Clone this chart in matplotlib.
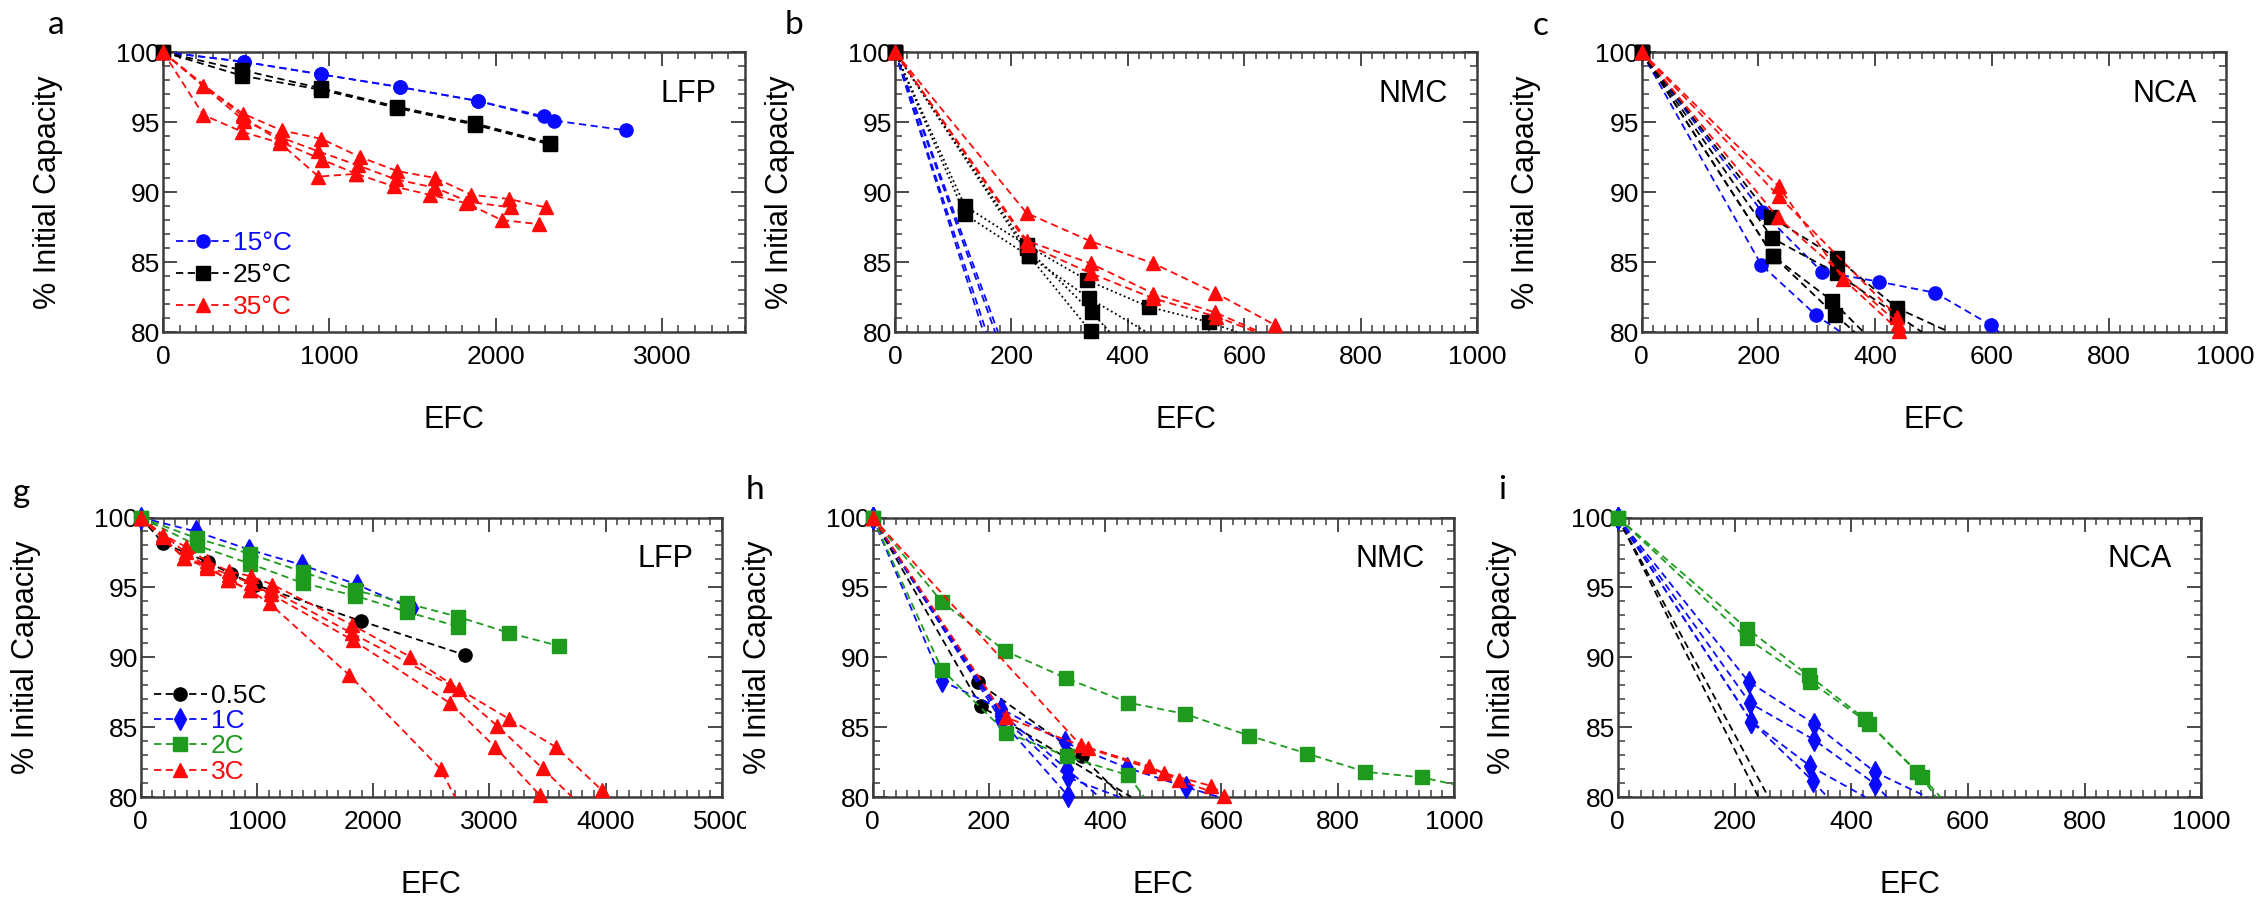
import matplotlib
matplotlib.use("Agg")
import matplotlib.pyplot as plt
from matplotlib.ticker import MultipleLocator
from matplotlib.patches import Rectangle

plt.rcParams['font.family'] = ['Liberation Sans', 'DejaVu Sans']

# ---- data (EFC, % initial capacity), one inner list per cell ----
# a: LFP, temperature
a15_efc = [[0, 486, 953, 1423, 1895, 2292], [0, 486, 953, 1423, 1895, 2354, 2785]]
a15_cap = [[100, 99.3, 98.4, 97.5, 96.5, 95.4], [100, 99.3, 98.4, 97.5, 96.5, 95.1, 94.4]]
a25_efc = [[0, 477, 953, 1407, 1877, 2326], [0, 477, 953, 1407, 1877, 2326]]
a25_cap = [[100, 98.7, 97.4, 96.1, 94.9, 93.5], [100, 98.3, 97.3, 96.0, 94.8, 93.4]]
a35_efc = [[0, 243, 481, 713, 953, 1185, 1407, 1638, 1854, 2081, 2301],
           [0, 486, 708, 935, 1173, 1400, 1638, 1838, 2093],
           [0, 243, 477, 704, 935, 1162, 1389, 1605, 1825, 2036, 2263],
           [0, 481, 704, 958, 1162]]
a35_cap = [[100, 97.6, 95.6, 94.4, 93.8, 92.5, 91.5, 91.0, 89.8, 89.5, 88.9],
           [100, 95.1, 93.9, 92.9, 91.9, 90.9, 90.3, 89.3, 88.9],
           [100, 95.5, 94.3, 93.5, 91.1, 91.3, 90.4, 89.8, 89.2, 88.0, 87.7],
           [100, 95.4, 93.6, 92.3, 91.3]]

# b: NMC, temperature
b15_efc = [[0, 152], [0, 157], [0, 172], [0, 177]]
b15_cap = [[100, 80], [100, 80], [100, 80], [100, 80]]
b25_efc = [[0, 120, 226, 330, 436, 540, 587], [0, 120, 231, 334, 432],
           [0, 226, 338, 369], [0, 231, 336]]
b25_cap = [[100, 89.0, 86.2, 83.7, 81.8, 80.7, 80.0], [100, 88.4, 85.4, 82.4, 80.0],
           [100, 86.0, 81.4, 80.0], [100, 85.4, 80.05]]
b35_efc = [[0, 226, 335, 444, 550, 653], [0, 227, 336, 444, 550, 627], [0, 229, 336, 444, 552, 620]]
b35_cap = [[100, 88.5, 86.5, 84.9, 82.8, 80.5], [100, 86.5, 84.9, 82.75, 81.4, 80.0],
           [100, 86.2, 84.2, 82.4, 81.1, 80.0]]

# c: NCA, temperature
c15_efc = [[0, 206, 309, 406, 503, 598, 612], [0, 205, 299, 341]]
c15_cap = [[100, 88.6, 84.3, 83.6, 82.8, 80.5, 80.0], [100, 84.8, 81.2, 80.0]]
c25_efc = [[0, 222, 334, 438, 527], [0, 224, 334, 438, 480], [0, 226, 327, 380], [0, 226, 332, 365]]
c25_cap = [[100, 88.2, 85.3, 81.7, 80.0], [100, 86.7, 84.2, 81.2, 80.0],
           [100, 85.4, 82.2, 80.0], [100, 85.4, 81.2, 80.0]]
c35_efc = [[0, 235, 345, 441], [0, 235, 438, 450], [0, 233, 440]]
c35_cap = [[100, 90.4, 83.8, 80.1], [100, 89.7, 81.1, 80.0], [100, 88.2, 80.6]]

# g: LFP, C-rate
g05_efc = [[0, 195, 583, 778, 982, 1893, 2793]]
g05_cap = [[100, 98.15, 96.8, 95.95, 95.2, 92.6, 90.15]]
g1_efc = [[0, 475, 935, 1390, 1861, 2330]]
g1_cap = [[100, 99.0, 97.7, 96.6, 95.2, 93.5]]
g2_efc = [[0, 486, 939, 1399, 1846, 2290, 2730, 3165, 3602], [0, 486, 939, 1399, 1846, 2290, 2730]]
g2_cap = [[100, 98.5, 97.4, 96.1, 94.8, 93.85, 92.9, 91.75, 90.8],
          [100, 98.0, 96.7, 95.3, 94.4, 93.25, 92.2]]
g3_efc = [[0, 195, 389, 567, 761, 948, 1133, 1822, 2314, 2742, 3165, 3576, 3965],
          [0, 195, 372, 573, 754, 939, 1123, 1822, 2664, 3065, 3457, 3710],
          [0, 372, 567, 754, 939, 1110, 1791, 2580, 2703],
          [0, 389, 573, 761, 948, 1123, 1829, 2664, 3052, 3431]]
g3_cap = [[100, 98.75, 97.9, 96.9, 96.15, 95.8, 95.2, 92.3, 90.05, 87.7, 85.6, 83.55, 80.5],
          [100, 98.6, 97.1, 96.4, 95.55, 94.8, 94.8, 91.7, 88.0, 85.1, 82.05, 80.0],
          [100, 97.1, 96.6, 95.5, 94.8, 93.85, 88.75, 82.0, 80.0],
          [100, 97.5, 96.5, 95.9, 95.3, 94.5, 91.2, 86.7, 83.55, 80.15]]

# h: NMC, C-rate
h05_efc = [[0, 181, 360, 430], [0, 186, 445]]
h05_cap = [[100, 88.2, 82.9, 80.0], [100, 86.5, 80.0]]
h1_efc = [[0, 119.5, 221, 331, 437, 540, 596], [0, 221, 334, 390], [0, 221, 336, 424], [0, 221, 336]]
h1_cap = [[100, 88.3, 86.3, 83.9, 82.1, 80.7, 80.0], [100, 86.0, 82.0, 80.0],
          [100, 85.8, 81.4, 80.0], [100, 85.5, 80.1]]
h2_efc = [[0, 119.5, 228, 333, 440, 537, 647, 748, 848, 946, 1000], [0, 119.5, 230, 335, 440, 467]]
h2_cap = [[100, 93.95, 90.45, 88.5, 86.75, 85.95, 84.4, 83.1, 81.8, 81.4, 80.9],
          [100, 89.1, 84.6, 82.9, 81.55, 80.0]]
h3_efc = [[0, 358, 476, 527, 605], [0, 229, 370, 502, 582, 612]]
h3_cap = [[100, 83.7, 82.2, 81.2, 80.05], [100, 85.7, 83.5, 81.7, 80.8, 80.0]]

# i: NCA, C-rate
i05_efc = [[0, 241], [0, 258]]
i05_cap = [[100, 80], [100, 80]]
i1_efc = [[0, 224, 336, 440, 530], [0, 227, 336, 440, 461], [0, 229, 330, 424], [0, 229, 334, 359]]
i1_cap = [[100, 88.25, 85.25, 81.8, 80.0], [100, 86.7, 84.1, 80.95, 80.0],
          [100, 85.4, 82.2, 80.0], [100, 85.4, 81.15, 80.0]]
i2_efc = [[0, 221.5, 327, 423, 513, 553], [0, 221.5, 330, 431, 521, 545]]
i2_cap = [[100, 92.05, 88.7, 85.6, 81.8, 80.0], [100, 91.35, 88.25, 85.25, 81.4, 80.0]]

BLUE, BLACK, RED, GREEN = '#0a0aff', '#000000', '#ff0a0a', '#1e9a1e'
FRAME = '#3c3c3c'
DASH = (0, (4, 2.5))
DOT = (0, (1, 1.6))

W, H = 2257, 897
fig = plt.figure(figsize=(W / 100, H / 100), dpi=100)


def make_ax(left, top, w, h):
    return fig.add_axes([left / W, 1 - (top + h) / H, w / W, h / H])


def draw(ax, efc, cap, color, marker, ms, ls=DASH, label=None, xmax=1000):
    first = None
    for k, (x, y) in enumerate(zip(efc, cap)):
        # markers only on measured points, not on where a line leaves the frame
        mk = [j for j in range(len(x)) if y[j] > 80.001 and x[j] < xmax]
        line, = ax.plot(x, y, color=color, ls=ls, lw=1.3, marker=marker, ms=ms,
                        mec=color, mfc=color, markevery=mk, clip_on=False,
                        label=label if k == 0 else None, zorder=3)
        if first is None:
            first = line
    return first


def style(ax, xmax, xmajor, xminor, name, letter, lx, ly):
    ax.set_xlim(0, xmax)
    ax.set_ylim(80, 100)
    ax.xaxis.set_major_locator(MultipleLocator(xmajor))
    ax.xaxis.set_minor_locator(MultipleLocator(xminor))
    ax.yaxis.set_major_locator(MultipleLocator(5))
    ax.yaxis.set_minor_locator(MultipleLocator(1))
    ax.tick_params(which='both', direction='in', top=True, right=True,
                   color=FRAME, labelsize=19)
    ax.tick_params(which='major', length=10, width=1.3)
    ax.tick_params(which='minor', length=5, width=1.1)
    ax.tick_params(axis='x', pad=9)
    ax.tick_params(axis='y', pad=2)
    for s in ax.spines.values():
        s.set_color(FRAME)
        s.set_linewidth(1.8)
    ax.set_xlabel('EFC', fontsize=22)
    ax.set_ylabel('% Initial Capacity', fontsize=22)
    ax.xaxis.set_label_coords(0.5, -0.26)
    ax.yaxis.set_label_coords(-0.172, 0.5)
    ax.text(0.95, 0.905, name, transform=ax.transAxes, ha='right', va='top', fontsize=22)
    fig.text(lx / W, 1 - ly / H, letter, fontsize=24, family='Lato', ha='center', va='center')


ax_a = make_ax(163, 52, 582, 280)
ax_b = make_ax(895, 52, 582, 280)
ax_c = make_ax(1641.5, 52, 584, 280)
ax_g = make_ax(140.6, 517.5, 581.4, 279.5)
ax_h = make_ax(872.6, 517.5, 581.2, 279.5)
ax_i = make_ax(1617.8, 517.5, 583.6, 279.5)

# a
l15 = draw(ax_a, a15_efc, a15_cap, BLUE, 'o', 9.5, label='15°C', xmax=3500)
l25 = draw(ax_a, a25_efc, a25_cap, BLACK, 's', 10, label='25°C', xmax=3500)
l35 = draw(ax_a, a35_efc, a35_cap, RED, '^', 10, label='35°C', xmax=3500)
style(ax_a, 3500, 1000, 100, 'LFP', 'a', 56, 25)
ax_a.legend(handles=[l15, l25, l35], loc='lower left', bbox_to_anchor=(0.0, 0.0),
            frameon=False, fontsize=19, labelcolor='linecolor', handlelength=2.0,
            handletextpad=0.15, labelspacing=0.3, borderaxespad=0.3, borderpad=0.2)

# b
draw(ax_b, b15_efc, b15_cap, BLUE, 'o', 9.5)
draw(ax_b, b25_efc, b25_cap, BLACK, 's', 10, ls=DOT)
draw(ax_b, b35_efc, b35_cap, RED, '^', 10)
style(ax_b, 1000, 200, 20, 'NMC', 'b', 794, 25)

# c
draw(ax_c, c15_efc, c15_cap, BLUE, 'o', 9.5)
draw(ax_c, c25_efc, c25_cap, BLACK, 's', 10)
draw(ax_c, c35_efc, c35_cap, RED, '^', 10)
style(ax_c, 1000, 200, 20, 'NCA', 'c', 1541, 26)

# g
m05 = draw(ax_g, g05_efc, g05_cap, BLACK, 'o', 9.5, label='0.5C', xmax=5000)
m1 = draw(ax_g, g1_efc, g1_cap, BLUE, 'd', 11, label='1C', xmax=5000)
m2 = draw(ax_g, g2_efc, g2_cap, GREEN, 's', 10, label='2C', xmax=5000)
m3 = draw(ax_g, g3_efc, g3_cap, RED, '^', 10, label='3C', xmax=5000)
style(ax_g, 5000, 1000, 100, 'LFP', 'g', 22, 493)
ax_g.legend(handles=[m05, m1, m2, m3], loc='lower left', bbox_to_anchor=(0.0, 0.0),
            frameon=False, fontsize=19, labelcolor='linecolor', handlelength=2.0,
            handletextpad=0.15, labelspacing=0.05, borderaxespad=0.3, borderpad=0.2)

# h
draw(ax_h, h05_efc, h05_cap, BLACK, 'o', 9.5)
draw(ax_h, h1_efc, h1_cap, BLUE, 'd', 11)
draw(ax_h, h2_efc, h2_cap, GREEN, 's', 10)
draw(ax_h, h3_efc, h3_cap, RED, '^', 10)
style(ax_h, 1000, 200, 20, 'NMC', 'h', 755, 490)

# i
draw(ax_i, i05_efc, i05_cap, BLACK, 'o', 9.5)
draw(ax_i, i1_efc, i1_cap, BLUE, 'd', 11)
draw(ax_i, i2_efc, i2_cap, GREEN, 's', 10)
style(ax_i, 1000, 200, 20, 'NCA', 'i', 1502, 490)

# the source image crops the last digit of "5000" in panel g
fig.add_artist(Rectangle((746 / W, 1 - 845 / H), 12 / W, 40 / H, transform=fig.transFigure,
                         facecolor='white', edgecolor='none', zorder=10))

fig.savefig('out.png', dpi=100, facecolor='white')
